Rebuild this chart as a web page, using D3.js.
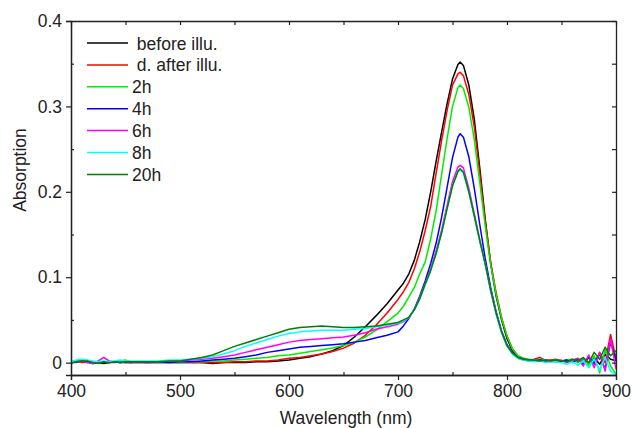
<!DOCTYPE html>
<html>
<head>
<meta charset="utf-8">
<script src="https://cdn.jsdelivr.net/npm/d3@7"></script>
<style>
  body { margin: 0; background: #fff; }
  text { font-family: "Liberation Sans", Arial, sans-serif; fill: #222; }
</style>
</head>
<body>
<script>
// wavelengths (nm), shared by every spectrum
var wavelengths = [
  400,405,410,415,420,425,430,435,440,445,450,455,460,
  470,480,490,500,510,520,530,540,550,560,570,580,590,600,610,620,630,640,650,660,670,680,690,
  700,705,710,715,720,725,730,735,740,745,750,755,757,760,765,770,775,780,785,790,795,800,805,
  810,815,820,825,830,835,840,845,850,855,860,865,870,875,880,885,890,895,900
];

var beforeIllu = [
  0.000,0.002,0.002,0.000,0.001,0.000,-0.001,0.000,0.001,0.000,0.000,0.000,0.000,
  0.000,0.000,0.000,0.000,0.000,0.000,-0.001,0.000,0.000,0.000,0.001,0.001,0.002,0.003,0.005,0.007,0.010,0.014,0.020,0.030,0.042,0.055,0.069,
  0.085,0.093,0.104,0.120,0.142,0.168,0.200,0.236,0.270,0.303,0.332,0.349,0.352,0.348,0.325,0.285,0.228,0.168,0.116,0.078,0.050,0.028,0.014,
  0.007,0.004,0.003,0.003,0.002,0.003,0.002,0.003,0.002,0.002,0.003,0.001,0.004,0.000,0.006,-0.002,0.010,0.004,0.002
];
var afterIllu = [
  0.001,0.002,0.000,0.001,-0.001,0.000,0.001,0.000,0.000,0.001,0.000,0.000,0.000,
  0.000,0.000,0.000,0.000,0.000,0.000,0.000,0.000,0.001,0.001,0.002,0.002,0.003,0.005,0.006,0.008,0.010,0.013,0.017,0.023,0.032,0.044,0.058,
  0.074,0.083,0.094,0.110,0.130,0.155,0.183,0.222,0.260,0.295,0.325,0.338,0.340,0.336,0.314,0.276,0.222,0.166,0.118,0.082,0.053,0.031,0.016,
  0.008,0.005,0.003,0.004,0.006,0.003,0.003,0.004,0.002,0.003,0.002,0.005,0.001,0.006,-0.002,0.012,0.000,0.033,0.005
];
var h2 = [
  0.000,0.001,0.003,0.002,0.001,0.000,0.001,0.000,0.001,0.002,0.003,0.001,0.001,
  0.001,0.000,0.001,0.000,0.001,0.001,0.002,0.002,0.003,0.004,0.005,0.006,0.008,0.009,0.011,0.013,0.015,0.017,0.020,0.024,0.030,0.038,0.048,
  0.058,0.066,0.077,0.088,0.104,0.118,0.145,0.178,0.220,0.262,0.300,0.322,0.325,0.321,0.299,0.261,0.211,0.160,0.115,0.080,0.052,0.031,0.016,
  0.008,0.005,0.004,0.003,0.004,0.003,0.002,0.003,0.001,0.003,0.004,0.000,0.005,-0.003,0.008,-0.012,0.015,-0.004,-0.013
];
var h4 = [
  0.001,0.000,0.002,0.001,-0.001,0.000,0.001,0.000,0.001,0.000,0.001,0.000,0.001,
  0.000,0.001,0.000,0.001,0.001,0.002,0.003,0.004,0.005,0.007,0.009,0.012,0.014,0.016,0.018,0.019,0.020,0.021,0.022,0.024,0.026,0.029,0.032,
  0.036,0.043,0.052,0.063,0.078,0.096,0.116,0.140,0.170,0.205,0.240,0.264,0.268,0.264,0.241,0.204,0.162,0.122,0.088,0.060,0.037,0.021,0.012,
  0.006,0.004,0.003,0.002,0.003,0.002,0.002,0.001,0.002,0.003,0.000,0.004,-0.002,0.006,0.000,0.010,-0.008,0.024,0.003
];
var h6 = [
  0.000,0.001,0.002,0.000,-0.001,0.002,0.006,0.002,0.001,0.000,0.001,0.001,0.001,
  0.001,0.001,0.002,0.002,0.003,0.004,0.005,0.007,0.009,0.012,0.015,0.018,0.021,0.024,0.026,0.027,0.028,0.029,0.030,0.032,0.035,0.039,0.042,
  0.045,0.048,0.053,0.062,0.076,0.093,0.110,0.131,0.155,0.184,0.212,0.229,0.231,0.228,0.204,0.174,0.144,0.116,0.085,0.058,0.036,0.020,0.011,
  0.005,0.003,0.002,0.003,0.002,0.003,0.001,0.002,0.003,0.000,0.003,0.005,-0.004,0.009,-0.006,0.012,-0.010,0.028,-0.008
];
var h8 = [
  0.001,0.003,0.004,0.003,0.002,0.001,0.002,0.001,0.002,0.003,0.002,0.002,0.002,
  0.002,0.002,0.003,0.003,0.004,0.005,0.007,0.010,0.014,0.019,0.023,0.027,0.031,0.034,0.036,0.037,0.038,0.038,0.038,0.039,0.040,0.042,0.044,
  0.046,0.049,0.053,0.062,0.075,0.091,0.108,0.128,0.152,0.180,0.207,0.223,0.226,0.222,0.199,0.171,0.142,0.115,0.084,0.057,0.035,0.019,0.010,
  0.005,0.003,0.002,0.001,0.002,0.000,0.001,0.001,0.000,-0.002,0.001,-0.003,0.002,-0.006,0.004,-0.009,0.006,-0.010,-0.014
];
var h20 = [
  -0.001,0.001,0.002,0.002,0.000,-0.001,0.001,0.000,0.001,0.000,0.001,0.001,0.001,
  0.001,0.001,0.002,0.002,0.004,0.006,0.009,0.014,0.019,0.023,0.027,0.031,0.035,0.039,0.041,0.042,0.043,0.042,0.041,0.041,0.042,0.043,0.045,
  0.047,0.050,0.053,0.062,0.075,0.092,0.108,0.128,0.152,0.180,0.207,0.224,0.227,0.223,0.200,0.172,0.143,0.116,0.085,0.058,0.036,0.020,0.011,
  0.006,0.004,0.003,0.003,0.002,0.003,0.002,0.003,0.002,0.001,0.004,0.002,0.006,0.000,0.012,0.004,0.018,0.008,0.014
];

var seriesLabels = [" before illu.", " d. after illu.", "2h", "4h", "6h", "8h", "20h"];
var seriesValues = [beforeIllu, afterIllu, h2, h4, h6, h8, h20];
var seriesColors = ["#000000", "#ff0000", "#00ee00", "#0000ff", "#ff00ff", "#00ffff", "#008000"];

var xTicks = [400, 500, 600, 700, 800, 900];
var yTicks = [0, 0.1, 0.2, 0.3, 0.4];

var margin = {top: 21, right: 17, bottom: 53, left: 71},
    width = 633 - margin.left - margin.right,
    height = 428 - margin.top - margin.bottom;

var x = d3.scaleLinear().domain([400, 900]).range([0, width]);
var y = d3.scaleLinear().domain([-0.0145, 0.4]).range([height, 0]);

var svg = d3.select("body").append("svg")
    .attr("width", 633)
    .attr("height", 428);

var g = svg.append("g")
    .attr("transform", "translate(" + margin.left + "," + margin.top + ")");

g.append("defs").append("clipPath").attr("id", "clip")
  .append("rect").attr("width", width).attr("height", height);

// spectra
var line = d3.line()
    .x(function(d, i) { return x(wavelengths[i]); })
    .y(function(d) { return y(d); });

g.append("g").attr("clip-path", "url(#clip)")
  .selectAll("path")
  .data(seriesValues)
  .enter().append("path")
    .attr("fill", "none")
    .attr("stroke", function(d, i) { return seriesColors[i]; })
    .attr("stroke-width", 1.5)
    .attr("stroke-linejoin", "round")
    .attr("d", line);

// axes: major ticks out, minor ticks in (left/bottom); top/right ticks in
var minorX = d3.range(450, 900, 100);
var minorY = d3.range(0.05, 0.4, 0.1);

function styleAxis(sel) {
  sel.select(".domain").attr("stroke", "#222").attr("stroke-width", 1.3);
  sel.selectAll(".tick line").attr("stroke", "#222").attr("stroke-width", 1.2);
  sel.selectAll(".tick text").style("font-size", "17.5px").attr("fill", "#222");
}

g.append("g")
  .attr("transform", "translate(0," + height + ")")
  .call(d3.axisBottom(x).tickValues(xTicks).tickSizeOuter(0).tickSize(5).tickPadding(5).tickFormat(d3.format("d")))
  .call(styleAxis);
g.append("g")
  .attr("transform", "translate(0," + height + ")")
  .call(d3.axisBottom(x).tickValues(minorX).tickSize(-3).tickSizeOuter(0).tickFormat(""))
  .call(styleAxis);

g.append("g")
  .call(d3.axisLeft(y).tickValues(yTicks).tickSizeOuter(0).tickSize(5).tickPadding(4)
    .tickFormat(function(d) { return d === 0 ? "0" : d3.format(".1f")(d); }))
  .call(styleAxis);
g.append("g")
  .call(d3.axisLeft(y).tickValues(minorY).tickSize(-3).tickSizeOuter(0).tickFormat(""))
  .call(styleAxis);

g.append("g")
  .call(d3.axisTop(x).tickValues(xTicks.concat(minorX)).tickSize(-4).tickSizeOuter(0).tickFormat(""))
  .call(styleAxis);
g.append("g")
  .attr("transform", "translate(" + width + ",0)")
  .call(d3.axisRight(y).tickValues(yTicks.concat(minorY)).tickSize(-4).tickSizeOuter(0).tickFormat(""))
  .call(styleAxis);

// axis titles
svg.append("text")
  .attr("x", 346).attr("y", 424)
  .attr("text-anchor", "middle")
  .style("font-size", "17.5px")
  .text("Wavelength (nm)");

svg.append("text")
  .attr("transform", "translate(26,170) rotate(-90)")
  .attr("text-anchor", "middle")
  .style("font-size", "17.5px")
  .text("Absorption");

// legend
var legend = svg.append("g").attr("transform", "translate(87,43)");
var rows = legend.selectAll("g")
  .data(seriesLabels)
  .enter().append("g")
    .attr("transform", function(d, i) { return "translate(0," + (i * 21.9) + ")"; });
rows.append("line")
  .attr("x1", 0).attr("x2", 41)
  .attr("stroke", function(d, i) { return seriesColors[i]; })
  .attr("stroke-width", 1.5);
rows.append("text")
  .attr("x", 45).attr("y", 6.5)
  .style("font-size", "17.5px")
  .style("white-space", "pre")
  .text(function(d) { return d; });
</script>
</body>
</html>
